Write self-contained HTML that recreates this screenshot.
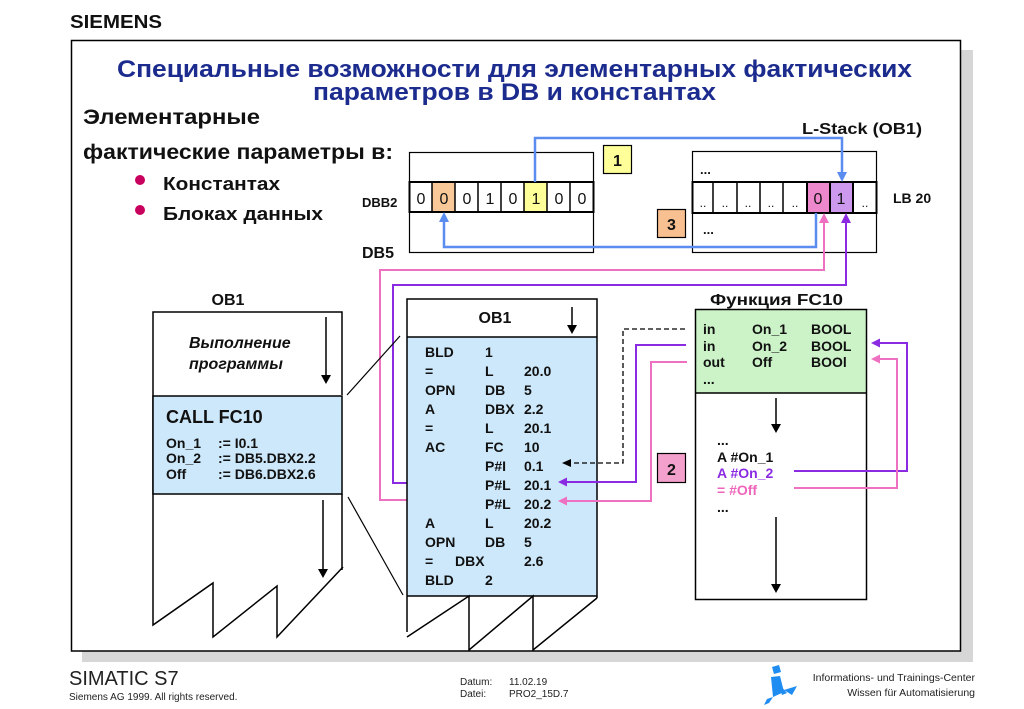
<!DOCTYPE html>
<html><head><meta charset="utf-8"><style>
html,body{margin:0;padding:0;background:#fff;}
svg{display:block;}
text{font-family:"Liberation Sans","DejaVu Sans",sans-serif;}
</style></head><body>
<svg width="1024" height="709" viewBox="0 0 1024 709" xmlns="http://www.w3.org/2000/svg">
<!-- shadow -->
<rect x="961" y="50" width="12" height="612" fill="#d6d6d6"/>
<rect x="82" y="651" width="891" height="11" fill="#d6d6d6"/>
<!-- frame -->
<rect x="71.5" y="40.5" width="889" height="610.5" fill="#fff" stroke="#000" stroke-width="1.5"/>

<!-- SIEMENS -->
<text x="70" y="28" font-size="18" font-weight="bold" fill="#111" textLength="92" lengthAdjust="spacingAndGlyphs">SIEMENS</text>

<!-- Title -->
<text x="117" y="77" font-size="24" font-weight="bold" fill="#1c2b8e" textLength="795" lengthAdjust="spacingAndGlyphs">Специальные возможности для элементарных фактических</text>
<text x="313" y="100" font-size="24" font-weight="bold" fill="#1c2b8e" textLength="403" lengthAdjust="spacingAndGlyphs">параметров в DB и константах</text>

<!-- left text -->
<text x="83" y="124" font-size="21" font-weight="bold" fill="#111" textLength="177" lengthAdjust="spacingAndGlyphs">Элементарные</text>
<text x="83" y="159" font-size="21" font-weight="bold" fill="#111" textLength="310" lengthAdjust="spacingAndGlyphs">фактические параметры в:</text>
<circle cx="140" cy="180" r="5" fill="#c8005e"/>
<circle cx="140" cy="210" r="5" fill="#c8005e"/>
<text x="163" y="190" font-size="18" font-weight="bold" fill="#111" textLength="117" lengthAdjust="spacingAndGlyphs">Константах</text>
<text x="163" y="220" font-size="18" font-weight="bold" fill="#111" textLength="160" lengthAdjust="spacingAndGlyphs">Блоках данных</text>

<!-- DBB2 box -->
<rect x="409.5" y="152.5" width="184" height="100" fill="#fff" stroke="#000" stroke-width="1.2"/>
<rect x="432" y="182" width="23" height="30" fill="#f8c898"/>
<rect x="524" y="182" width="23" height="30" fill="#ffff99"/>
<rect x="409.5" y="182" width="184" height="30" fill="none" stroke="#000" stroke-width="2"/>
<g stroke="#000" stroke-width="1.5">
<line x1="432" y1="182" x2="432" y2="212"/><line x1="455" y1="182" x2="455" y2="212"/>
<line x1="478" y1="182" x2="478" y2="212"/><line x1="501" y1="182" x2="501" y2="212"/>
<line x1="524" y1="182" x2="524" y2="212"/><line x1="547" y1="182" x2="547" y2="212"/>
<line x1="570" y1="182" x2="570" y2="212"/>
</g>
<g font-size="16" fill="#111" text-anchor="middle">
<text x="421" y="204">0</text><text x="444" y="204">0</text><text x="467" y="204">0</text><text x="490" y="204">1</text>
<text x="513" y="204">0</text><text x="536" y="204">1</text><text x="559" y="204">0</text><text x="582" y="204">0</text>
</g>
<text x="362" y="207" font-size="13" font-weight="bold" fill="#111">DBB2</text>
<text x="362" y="258" font-size="16" font-weight="bold" fill="#111">DB5</text>

<!-- boxes 1 and 3 -->
<rect x="603.5" y="145.5" width="28" height="28" fill="#ffff99" stroke="#000" stroke-width="1.2"/>
<text x="617.5" y="166" font-size="16" font-weight="bold" text-anchor="middle" fill="#111">1</text>
<rect x="657.5" y="209.5" width="28" height="28" fill="#f8c090" stroke="#000" stroke-width="1.2"/>
<text x="671.5" y="230" font-size="16" font-weight="bold" text-anchor="middle" fill="#111">3</text>

<!-- L-stack box -->
<rect x="692.5" y="151.5" width="184" height="101" fill="#fff" stroke="#000" stroke-width="1.2"/>
<rect x="807" y="182" width="23" height="31" fill="#ee88cc"/>
<rect x="830" y="182" width="23" height="31" fill="#cc99ee"/>
<rect x="692.5" y="182" width="184" height="31" fill="none" stroke="#000" stroke-width="2"/>
<g stroke="#000" stroke-width="1.5">
<line x1="713" y1="182" x2="713" y2="213"/><line x1="737" y1="182" x2="737" y2="213"/>
<line x1="760" y1="182" x2="760" y2="213"/><line x1="783" y1="182" x2="783" y2="213"/>
<line x1="853" y1="182" x2="853" y2="213"/>
</g>
<rect x="807" y="182" width="23" height="31" fill="none" stroke="#000" stroke-width="2"/>
<rect x="830" y="182" width="23" height="31" fill="none" stroke="#000" stroke-width="2"/>
<g font-size="12" fill="#111" text-anchor="middle">
<text x="703" y="207">..</text><text x="725" y="207">..</text><text x="748" y="207">..</text>
<text x="771" y="207">..</text><text x="795" y="207">..</text><text x="865" y="207">..</text>
</g>
<g font-size="16" fill="#111" text-anchor="middle"><text x="818" y="204">0</text><text x="841" y="204">1</text></g>
<text x="700" y="174" font-size="13" font-weight="bold" fill="#111">...</text>
<text x="703" y="234" font-size="13" font-weight="bold" fill="#111">...</text>
<text x="802" y="134" font-size="16" font-weight="bold" fill="#111" textLength="120" lengthAdjust="spacingAndGlyphs">L-Stack (OB1)</text>
<text x="893" y="203" font-size="14" font-weight="bold" fill="#111">LB 20</text>

<!-- blue connectors -->
<g fill="none" stroke="#5b8cf0" stroke-width="2.5">
<polyline points="535,182 535,138 842,138 842,174"/>
<polyline points="816,213 816,247 444,247 444,220"/>
</g>
<polygon points="837,172 847,172 842,182" fill="#5b8cf0"/>
<polygon points="439,222 449,222 444,212" fill="#5b8cf0"/>

<!-- pink and purple long connectors -->
<polyline points="467,500 380,500 380,270 824,270 824,221" fill="none" stroke="#ee70c0" stroke-width="2"/>
<polygon points="819,223 829,223 824,213" fill="#ee70c0"/>
<polyline points="468,483 393,483 393,285 846,285 846,221" fill="none" stroke="#8a2be2" stroke-width="2"/>
<polygon points="841,223 851,223 846,213" fill="#8a2be2"/>

<!-- left OB1 -->
<text x="228" y="305" font-size="16" font-weight="bold" text-anchor="middle" fill="#111">OB1</text>
<g fill="none" stroke="#000" stroke-width="1.5">
<polyline points="342,395 342,312 153,312 153,625 213,583 213,637 277,586 277,637 343,567"/>
<line x1="342" y1="494" x2="342" y2="570"/>
</g>
<rect x="153" y="396" width="189" height="98" fill="#cde8fa" stroke="#000" stroke-width="1.5"/>
<text x="189" y="348" font-size="16" font-weight="bold" font-style="italic" fill="#111">Выполнение</text>
<text x="189" y="369" font-size="16" font-weight="bold" font-style="italic" fill="#111">программы</text>
<line x1="326" y1="317" x2="326" y2="376" stroke="#000" stroke-width="1.5"/>
<polygon points="321,375 331,375 326,384" fill="#000"/>
<line x1="323" y1="500" x2="323" y2="570" stroke="#000" stroke-width="1.5"/>
<polygon points="318,569 328,569 323,578" fill="#000"/>
<text x="166" y="423" font-size="18" font-weight="bold" fill="#111">CALL FC10</text>
<g font-size="14" font-weight="bold" fill="#111">
<text x="166" y="448">On_1</text><text x="218" y="448">:= I0.1</text>
<text x="166" y="463">On_2</text><text x="218" y="463">:= DB5.DBX2.2</text>
<text x="166" y="479">Off</text><text x="218" y="479">:= DB6.DBX2.6</text>
</g>

<!-- zoom diagonals -->
<g stroke="#000" stroke-width="1.2">
<line x1="347" y1="395" x2="400" y2="336"/>
<line x1="348" y1="497" x2="403" y2="595"/>
</g>

<!-- middle OB1 -->
<rect x="407" y="337" width="190" height="259" fill="#cde8fa"/>
<g fill="none" stroke="#000" stroke-width="1.5">
<polyline points="407,632 407,299 597,299 597,598"/>
<line x1="407" y1="337" x2="597" y2="337"/>
<line x1="407" y1="596" x2="597" y2="596"/>
<polyline points="407,637 469,596 469,650 533,596 533,650 597,598"/>
</g>
<text x="495" y="323" font-size="16" font-weight="bold" text-anchor="middle" fill="#111">OB1</text>
<line x1="572" y1="307" x2="572" y2="326" stroke="#000" stroke-width="1.5"/>
<polygon points="567,325 577,325 572,334" fill="#000"/>
<g font-size="14" font-weight="bold" fill="#111">
<text x="425" y="357">BLD</text><text x="485" y="357">1</text>
<text x="425" y="376">=</text><text x="485" y="376">L</text><text x="524" y="376">20.0</text>
<text x="425" y="395">OPN</text><text x="485" y="395">DB</text><text x="524" y="395">5</text>
<text x="425" y="414">A</text><text x="485" y="414">DBX</text><text x="524" y="414">2.2</text>
<text x="425" y="433">=</text><text x="485" y="433">L</text><text x="524" y="433">20.1</text>
<text x="425" y="452">AC</text><text x="485" y="452">FC</text><text x="524" y="452">10</text>
<text x="485" y="471">P#I</text><text x="524" y="471">0.1</text>
<text x="485" y="490">P#L</text><text x="524" y="490">20.1</text>
<text x="485" y="509">P#L</text><text x="524" y="509">20.2</text>
<text x="425" y="528">A</text><text x="485" y="528">L</text><text x="524" y="528">20.2</text>
<text x="425" y="547">OPN</text><text x="485" y="547">DB</text><text x="524" y="547">5</text>
<text x="425" y="566">=</text><text x="455" y="566">DBX</text><text x="524" y="566">2.6</text>
<text x="425" y="585">BLD</text><text x="485" y="585">2</text>
</g>

<!-- connectors FC10 -> OB1 -->
<polyline points="685,329 623,329 623,463 571,463" fill="none" stroke="#000" stroke-width="1.3" stroke-dasharray="5,3"/>
<polygon points="562,463 571,459 571,467" fill="#000"/>
<polyline points="686,345 636,345 636,482 566,482" fill="none" stroke="#8a2be2" stroke-width="2"/>
<polygon points="558,482 567,477.5 567,486.5" fill="#8a2be2"/>
<polyline points="687,362 651,362 651,501 566,501" fill="none" stroke="#ee70c0" stroke-width="2"/>
<polygon points="558,501 567,496.5 567,505.5" fill="#ee70c0"/>

<rect x="657.5" y="453.5" width="28" height="29" fill="#f4a0cc" stroke="#000" stroke-width="1.2"/>
<text x="671.5" y="475" font-size="16" font-weight="bold" text-anchor="middle" fill="#111">2</text>

<!-- FC10 -->
<text x="710" y="305" font-size="16" font-weight="bold" fill="#111" textLength="133" lengthAdjust="spacingAndGlyphs">Функция  FC10</text>
<rect x="695" y="309" width="172" height="84" fill="#ccf2c8"/>
<rect x="695.5" y="309.5" width="171" height="290" fill="none" stroke="#000" stroke-width="1.5"/>
<line x1="695" y1="393" x2="867" y2="393" stroke="#000" stroke-width="1.5"/>
<g font-size="14" font-weight="bold" fill="#111">
<text x="703" y="334">in</text><text x="752" y="334">On_1</text><text x="811" y="334">BOOL</text>
<text x="703" y="351">in</text><text x="752" y="351">On_2</text><text x="811" y="351">BOOL</text>
<text x="703" y="367">out</text><text x="752" y="367">Off</text><text x="811" y="367">BOOl</text>
<text x="703" y="384">...</text>
<text x="717" y="445">...</text>
<text x="717" y="462">A #On_1</text>
<text x="717" y="478" fill="#8a2be2">A #On_2</text>
<text x="717" y="495" fill="#ee66bb">= #Off</text>
<text x="717" y="512">...</text>
</g>
<line x1="776" y1="398" x2="776" y2="425" stroke="#000" stroke-width="1.5"/>
<polygon points="771,424 781,424 776,433" fill="#000"/>
<line x1="776" y1="517" x2="776" y2="585" stroke="#000" stroke-width="1.5"/>
<polygon points="771,584 781,584 776,593" fill="#000"/>
<polyline points="794,471 907,471 907,343 880,343" fill="none" stroke="#8a2be2" stroke-width="2"/>
<polygon points="871,343 880,338.5 880,347.5" fill="#8a2be2"/>
<polyline points="794,488 897,488 897,359 880,359" fill="none" stroke="#ee70c0" stroke-width="2"/>
<polygon points="871,359 880,354.5 880,363.5" fill="#ee70c0"/>

<!-- footer -->
<text x="69" y="685" font-size="20" fill="#222">SIMATIC S7</text>
<text x="69" y="700" font-size="10" fill="#222">Siemens AG 1999. All rights reserved.</text>
<text x="460" y="685" font-size="10" fill="#222">Datum:</text>
<text x="509" y="685" font-size="10" fill="#222">11.02.19</text>
<text x="460" y="697" font-size="10" fill="#222">Datei:</text>
<text x="509" y="697" font-size="10" fill="#222">PRO2_15D.7</text>
<text x="975" y="681" font-size="10.5" fill="#222" text-anchor="end">Informations- und Trainings-Center</text>
<text x="975" y="696" font-size="10.5" fill="#222" text-anchor="end">Wissen für Automatisierung</text>
<!-- logo -->
<g fill="#1e8cf0">
<polygon points="772,667 779,665 781,672 774,674"/>
<polygon points="771,677 780,676 784,692 773,697"/>
<polygon points="779,684 787,693 782,695"/>
<polygon points="784,690 797,686 792,695"/>
<polygon points="773,697 769,703 764,705 767,699"/>
</g>
</svg>
</body></html>
